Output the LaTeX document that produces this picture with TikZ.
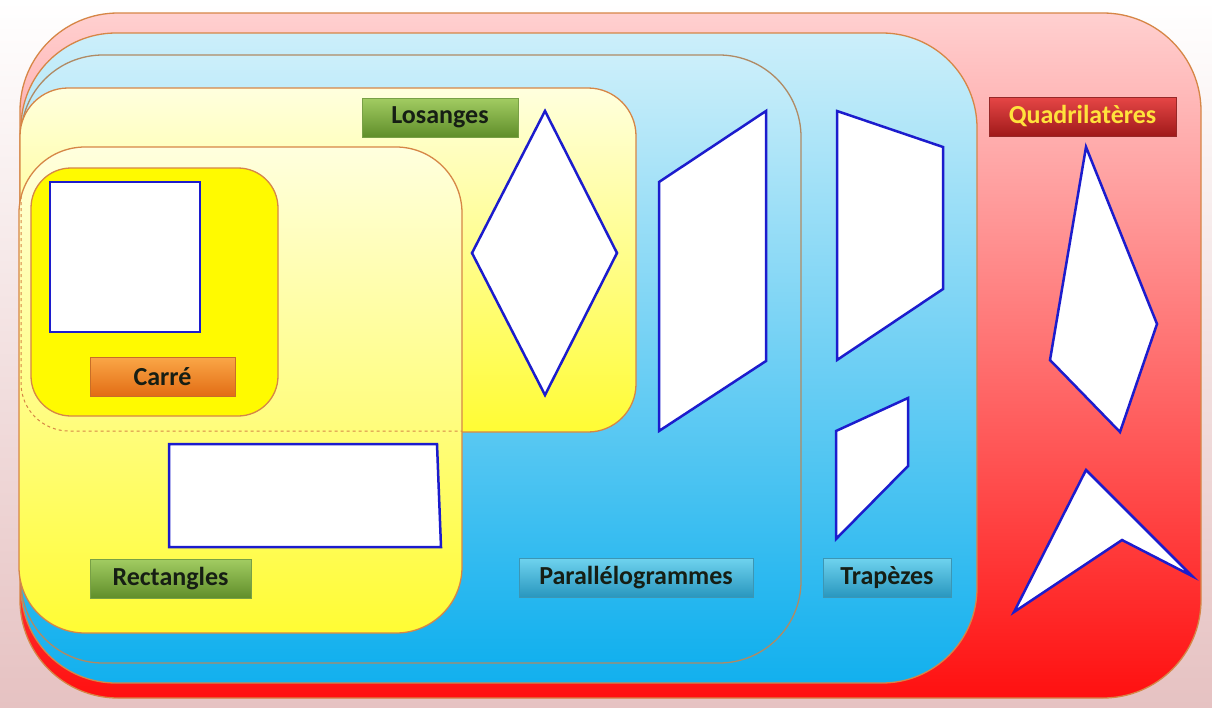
\documentclass[tikz,border=0pt]{standalone}
\usepackage{fontspec}
\setmainfont{Carlito}
\definecolor{shapeblue}{RGB}{28,28,205}
\definecolor{bordor}{RGB}{214,134,70}
\definecolor{bordbr}{RGB}{176,138,100}
\definecolor{bgtop}{RGB}{255,255,255}
\definecolor{bgbot}{RGB}{230,194,194}
\definecolor{redtop}{RGB}{255,208,208}
\definecolor{redmid}{RGB}{255,155,155}
\definecolor{redbot}{RGB}{255,16,16}
\definecolor{bluetop}{RGB}{204,239,250}
\definecolor{bluemid}{RGB}{136,206,242}
\definecolor{bluebot}{RGB}{18,176,238}
\definecolor{yeltop}{RGB}{255,255,222}
\definecolor{yelmid}{RGB}{255,255,180}
\definecolor{yelbot}{RGB}{255,252,52}
\definecolor{carrefill}{RGB}{255,250,0}
\definecolor{greentop}{RGB}{162,204,98}
\definecolor{greenbot}{RGB}{96,142,42}
\definecolor{greendraw}{RGB}{120,160,70}
\definecolor{orangetop}{RGB}{250,166,70}
\definecolor{orangebot}{RGB}{226,108,20}
\definecolor{orangedraw}{RGB}{200,110,40}
\definecolor{qtop}{RGB}{230,70,70}
\definecolor{qbot}{RGB}{160,26,26}
\definecolor{qdraw}{RGB}{150,40,40}
\definecolor{qtext}{RGB}{255,226,60}
\definecolor{tealtop}{RGB}{110,210,238}
\definecolor{tealbot}{RGB}{40,150,190}
\definecolor{tealdraw}{RGB}{60,150,180}
\definecolor{darktext}{RGB}{22,30,20}
\tikzset{
  setbox/.style={draw=#1, line width=1.3pt},
  figure/.style={draw=shapeblue, fill=white, line width=2.5pt, line join=miter},
  lbl/.style={minimum width=#1, minimum height=39pt, inner sep=0pt, line width=0.8pt,
    font=\bfseries\fontsize{26}{30}\selectfont},
  greenlbl/.style={top color=greentop, bottom color=greenbot, draw=greendraw, text=darktext},
  orangelbl/.style={top color=orangetop, bottom color=orangebot, draw=orangedraw, text=darktext},
  redlbl/.style={top color=qtop, bottom color=qbot, draw=qdraw, text=qtext},
  teallbl/.style={top color=tealtop, bottom color=tealbot, draw=tealdraw, text=darktext}
}
\begin{document}
\begin{tikzpicture}[x=1pt, y=-1pt]
\useasboundingbox (0,0) rectangle (1212,707);
% background
\shade[top color=bgtop, bottom color=bgbot] (0,0) rectangle (1212,707);
% Quadrilateres
\draw[setbox=bordor, top color=redtop, middle color=redmid, bottom color=redbot, rounded corners=98]
  (20,13) rectangle (1201,698);
% Trapezes
\draw[setbox=bordor, top color=bluetop, middle color=bluemid, bottom color=bluebot, rounded corners=95]
  (21,33) rectangle (977,683);
% Parallelogrammes
\draw[setbox=bordbr, top color=bluetop, middle color=bluemid, bottom color=bluebot, rounded corners=82]
  (21,55) rectangle (801,663);
% Losanges
\draw[setbox=bordor, top color=yeltop, middle color=yelmid, bottom color=yelbot, rounded corners=48]
  (20,88) rectangle (636,432);
% Rectangles
\draw[setbox=bordor, top color=yeltop, middle color=yelmid, bottom color=yelbot, rounded corners=66]
  (19,147) rectangle (462,633);
% hidden part of Losanges
\begin{scope}
  \clip[rounded corners=66] (19,147) rectangle (462,633);
  \draw[draw=bordor, line width=1pt, dashed, rounded corners=48] (21,88) rectangle (636,431);
\end{scope}
% Carre
\draw[setbox=bordor, fill=carrefill, rounded corners=40] (31,168) rectangle (278,416);

% figures
\draw[figure] (50,182) rectangle (200,332);
\draw[figure] (169,444) -- (437,444) -- (441,547) -- (169,547) -- cycle;
\draw[figure] (545,111) -- (472,253) -- (545,395) -- (617,253) -- cycle;
\draw[figure] (659,182) -- (766,111) -- (766,361) -- (659,431) -- cycle;
\draw[figure] (837,111) -- (943,147) -- (943,289) -- (837,360) -- cycle;
\draw[figure] (836,431) -- (908,398) -- (908,466) -- (836,539) -- cycle;
\draw[figure] (1086,147) -- (1157,324) -- (1120,432) -- (1050,360) -- cycle;
\draw[figure] (1086,470) -- (1192,576) -- (1122,540) -- (1014,612) -- cycle;

% labels
\node[lbl=156pt, greenlbl] (losanges) at (440,117.5) {Losanges};
\node[lbl=145pt, orangelbl] (carre) at (162.5,377) {Carré};
\node[lbl=161pt, greenlbl] (rectangles) at (170.5,578.5) {Rectangles};
\node[lbl=234pt, teallbl] (parallelogrammes) at (636,578) {Parallélogrammes};
\node[lbl=128pt, teallbl] (trapezes) at (887,578) {Trapèzes};
\node[lbl=187pt, redlbl] (quadrilateres) at (1082.5,116.5) {Quadrilatères};
\end{tikzpicture}
\end{document}
